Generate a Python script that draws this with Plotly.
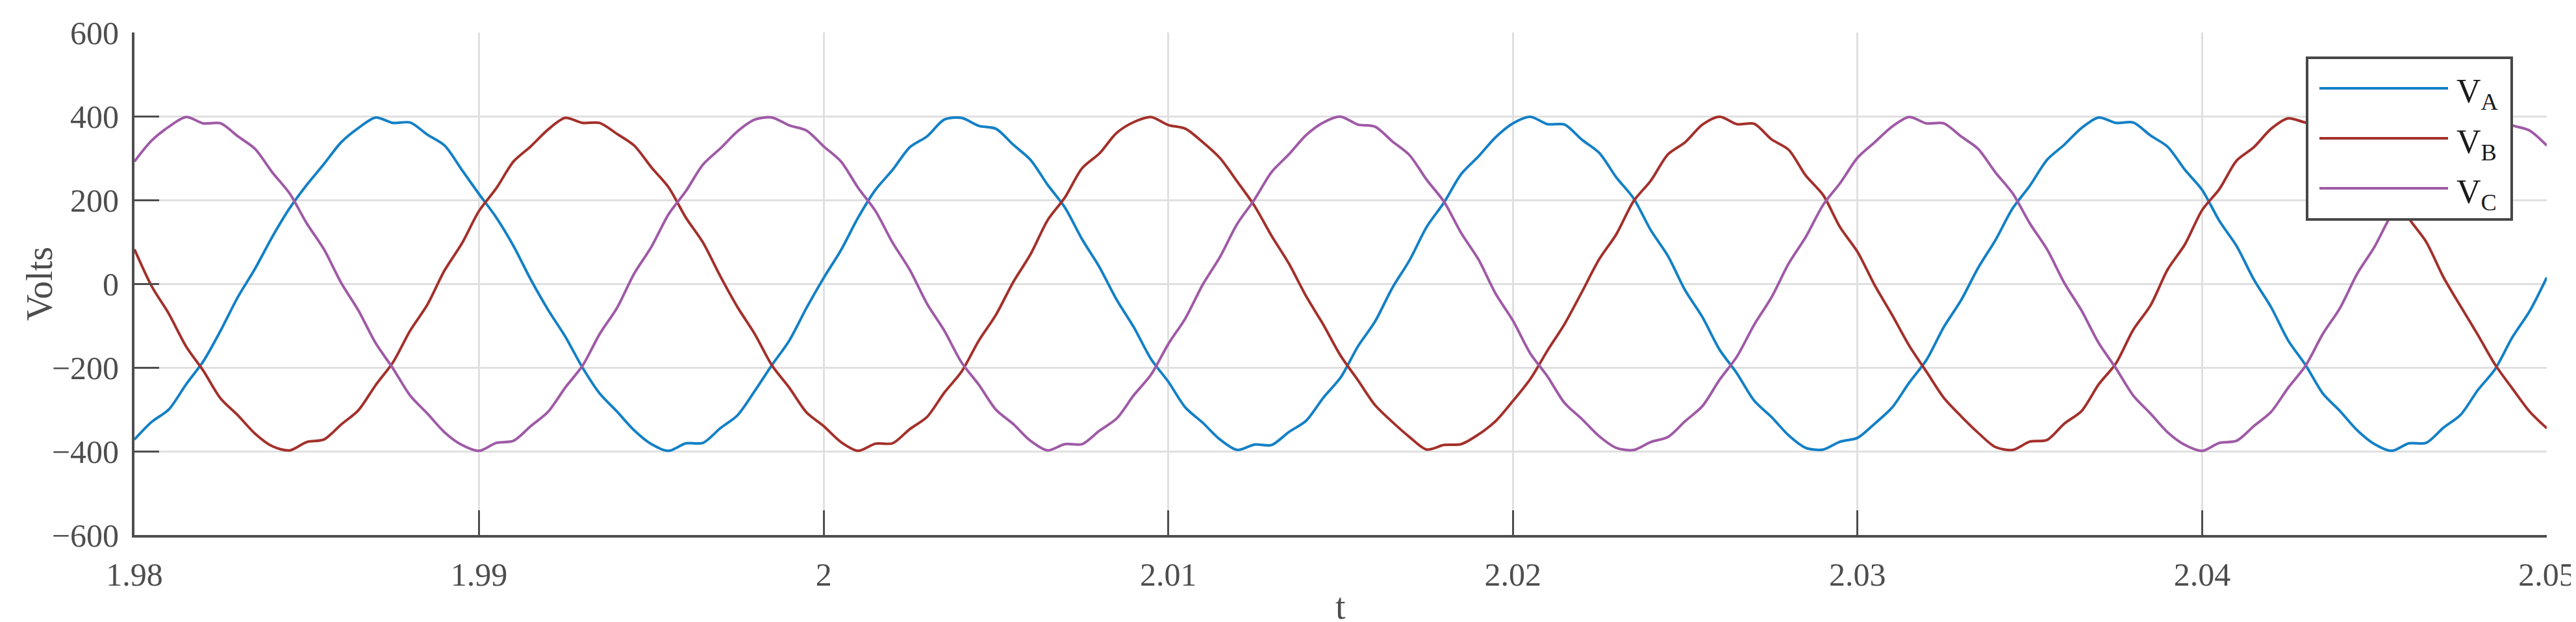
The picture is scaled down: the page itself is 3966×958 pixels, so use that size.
import plotly.graph_objects as go

# Sampled every 0.5 ms from 1.98 s to 2.05 s
t_start = 1.98
t_step = 0.0005

v_a = [-372, -330, -300, -240, -185, -112, -32, 36, 112, 180, 236, 286, 338, 372, 397, 384, 385,
       356, 330, 272, 214, 158, 90, 10, -62, -126, -200, -262, -305, -350, -383, -399, -381, -380,
       -345, -314, -256, -194, -136, -58, 14, 80, 158, 224, 272, 326, 352, 392, 396, 377, 370,
       332, 296, 236, 182, 106, 40, -38, -104, -180, -234, -296, -332, -372, -397, -384, -385,
       -354, -327, -272, -224, -150, -90, -10, 56, 136, 194, 262, 304, 350, 383, 399, 381, 380,
       344, 313, 254, 204, 128, 66, -16, -80, -158, -214, -279, -318, -362, -392, -396, -377,
       -368, -334, -296, -236, -182, -104, -40, 38, 104, 180, 234, 296, 332, 372, 397, 384, 385,
       354, 327, 272, 224, 150, 90, 10, -56, -136, -194, -262, -304, -350, -383, -399, -381, -380,
       -344, -313, -254, -204, -128, -66, 15]

v_b = [82, -6, -72, -150, -208, -274, -314, -358, -388, -398, -378, -372, -336, -302, -242, -188,
       -112, -50, 32, 96, 174, 228, 292, 328, 368, 396, 384, 384, 358, 330, 278, 230, 158, 98, 18,
       -56, -120, -195, -248, -307, -340, -378, -399, -382, -381, -347, -318, -260, -210, -136, -74,
       4, 70, 152, 206, 276, 311, 360, 386, 398, 379, 370, 338, 300, 244, 186, 114, 48, -30, -98,
       -172, -230, -290, -330, -366, -396, -385, -383, -360, -328, -280, -228, -160, -96, -20, 58,
       118, 197, 246, 309, 338, 380, 399, 381, 382, 345, 320, 258, 212, 134, 76, -4, -74, -148,
       -210, -272, -316, -356, -390, -397, -377, -373, -334, -304, -240, -190, -110, -52, 34, 94,
       176, 226, 294, 326, 370, 395, 385, 383, 356, 332, 276, 232, 156, 100, 16, -54, -122, -193,
       -250, -305, -345]

v_c = [292, 342, 375, 398, 383, 383, 352, 322, 266, 216, 144, 82, 2, -64, -142, -202, -267, -310,
       -355, -385, -399, -380, -375, -340, -306, -248, -196, -120, -58, 24, 88, 166, 221, 285, 323,
       364, 392, 397, 378, 366, 328, 292, 229, 174, 98, 33, -48, -112, -188, -241, -301, -335,
       -375, -398, -383, -383, -351, -322, -266, -217, -144, -82, -2, 64, 143, 201, 267, 309, 355,
       385, 399, 380, 375, 340, 307, 248, 196, 121, 58, -24, -88, -166, -221, -285, -323, -364,
       -392, -397, -378, -366, -328, -292, -229, -174, -98, -33, 48, 112, 188, 241, 301, 338, 375,
       398, 383, 383, 352, 322, 266, 216, 144, 82, 2, -64, -142, -202, -267, -310, -355, -385, -399,
       -380, -375, -340, -306, -248, -196, -120, -58, 24, 88, 166, 221, 285, 323, 364, 392, 397,
       378, 366, 330]

x_ticks = [1.98, 1.99, 2.0, 2.01, 2.02, 2.03, 2.04, 2.05]
x_tick_text = ["1.98", "1.99", "2", "2.01", "2.02", "2.03", "2.04", "2.05"]
y_ticks = [-600, -400, -200, 0, 200, 400, 600]

names = ["V<sub>A</sub>", "V<sub>B</sub>", "V<sub>C</sub>"]
colors = ["#1380c6", "#a3302b", "#9f5aa6"]

t = [round(t_start + i * t_step, 4) for i in range(len(v_a))]

W, H = 3966, 958
ml, mr, mt, mb = 199, 53, 42, 142
pw, ph = W - ml - mr, H - mt - mb

def px_x(p):
    return (p - ml) / pw

def px_y(p):
    return 1 - (p - mt) / ph

fig = go.Figure()
for vals, name, col in zip([v_a, v_b, v_c], names, colors):
    fig.add_trace(go.Scatter(x=t, y=vals, mode="lines", name=name,
                             line=dict(color=col, width=4, shape="spline", smoothing=0.8),
                             showlegend=False))

axis_col = "#4d4d4d"
grid_col = "#e0e0e0"
tick_font = dict(family="Liberation Serif", size=50, color=axis_col)
fig.update_xaxes(range=[1.98, 2.05], tickvals=x_ticks, ticktext=x_tick_text,
                 showgrid=True, gridcolor=grid_col, gridwidth=3, zeroline=False,
                 showline=True, linecolor=axis_col, linewidth=4,
                 ticks="inside", ticklen=38, tickwidth=3, tickcolor=axis_col,
                 tickfont=tick_font, ticklabelstandoff=14, automargin=False)
fig.update_yaxes(range=[-600, 600], tickvals=y_ticks,
                 showgrid=True, gridcolor=grid_col, gridwidth=3, zeroline=False,
                 showline=True, linecolor=axis_col, linewidth=4,
                 ticks="inside", ticklen=38, tickwidth=3, tickcolor=axis_col,
                 tickfont=tick_font, ticklabelstandoff=10, automargin=False)

# axis titles
fig.add_annotation(text="Volts", xref="paper", yref="paper", x=px_x(53), y=0.5,
                   xanchor="center", yanchor="middle", textangle=-90, showarrow=False,
                   font=dict(family="Liberation Serif", size=56, color=axis_col))
fig.add_annotation(text="t", xref="paper", yref="paper", x=0.5, y=px_y(926),
                   xanchor="center", yanchor="middle", showarrow=False,
                   font=dict(family="Liberation Serif", size=56, color=axis_col))

# legend box drawn like the MATLAB one (long line samples)
lx0, lx1, ly0, ly1 = 3544, 3859, 81, 330
fig.add_shape(type="rect", xref="paper", yref="paper",
              x0=px_x(lx0), x1=px_x(lx1), y0=px_y(ly1), y1=px_y(ly0),
              line=dict(color="#474747", width=4), fillcolor="white", layer="above")
for i, (name, col) in enumerate(zip(names, colors)):
    yy = 128 + i * 77
    fig.add_shape(type="line", xref="paper", yref="paper",
                  x0=px_x(3563), x1=px_x(3761), y0=px_y(yy), y1=px_y(yy),
                  line=dict(color=col, width=4), layer="above")
    fig.add_annotation(text=name, xref="paper", yref="paper", x=px_x(3772), y=px_y(yy + 9),
                       xanchor="left", yanchor="middle", showarrow=False,
                       font=dict(family="Liberation Serif", size=52, color="#1a1a1a"))

fig.update_layout(width=W, height=H, margin=dict(l=ml, r=mr, t=mt, b=mb),
                  plot_bgcolor="white", paper_bgcolor="white", showlegend=False)

fig.write_html("out.html")
